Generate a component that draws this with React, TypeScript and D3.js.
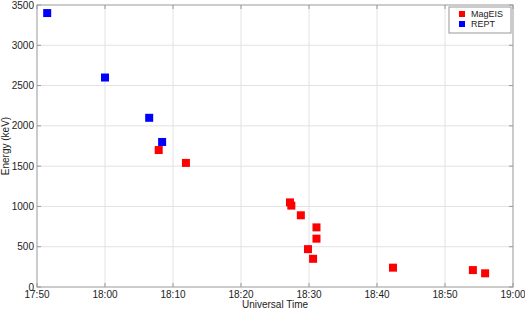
import React from 'react';
import * as d3 from 'd3';

const magEISTimes = ['18:07:54', '18:11:54', '18:27:12', '18:27:24', '18:28:48', '18:31:06', '18:31:06', '18:29:51', '18:30:36', '18:42:21', '18:54:06', '18:55:54'];
const magEISEnergy = [1700, 1540, 1050, 1010, 890, 740, 600, 470, 350, 240, 210, 170];
const reptTimes = ['17:51:30', '18:00:00', '18:06:30', '18:08:24'];
const reptEnergy = [3400, 2600, 2100, 1800];
const xTickLabels = ['17:50', '18:00', '18:10', '18:20', '18:30', '18:40', '18:50', '19:00'];
const yTicks = [0, 500, 1000, 1500, 2000, 2500, 3000, 3500];

const parse = d3.timeParse('%H:%M:%S');
const parseTick = d3.timeParse('%H:%M');

const width = 525;
const height = 309;
const margin = { top: 5, right: 12, bottom: 22, left: 37 };
const font = 'Arial, "Liberation Sans", Helvetica, sans-serif';

const App = () => {
  const x = d3.scaleTime()
    .domain([parseTick('17:50')!, parseTick('19:00')!])
    .range([margin.left, width - margin.right]);
  const y = d3.scaleLinear()
    .domain([0, 3500])
    .range([height - margin.bottom, margin.top]);

  const xTicks = xTickLabels.map(t => parseTick(t)!);
  const magEIS = magEISTimes.map((t, i) => ({ t: parse(t)!, e: magEISEnergy[i] }));
  const rept = reptTimes.map((t, i) => ({ t: parse(t)!, e: reptEnergy[i] }));
  const s = 8;
  const [x0, x1] = x.range();
  const [y0, y1] = y.range();

  return (
    <svg width={width} height={height} style={{ position: 'absolute', left: 0, top: 0, fontFamily: font }}>
      <rect x={x0} y={y1} width={x1 - x0} height={y0 - y1} fill="white" />
      {xTicks.slice(1, -1).map((d, i) => (
        <line key={'gx' + i} x1={x(d)} x2={x(d)} y1={y1} y2={y0} stroke="#e2e2e2" strokeWidth={1} />
      ))}
      {yTicks.slice(1, -1).map(d => (
        <line key={'gy' + d} x1={x0} x2={x1} y1={y(d)} y2={y(d)} stroke="#e2e2e2" strokeWidth={1} />
      ))}
      {xTicks.map((d, i) => (
        <g key={'tx' + i}>
          <line x1={x(d)} x2={x(d)} y1={y0} y2={y0 - 4} stroke="#999" />
          <line x1={x(d)} x2={x(d)} y1={y1} y2={y1 + 4} stroke="#999" />
          <text x={x(d)} y={y0 + 11} textAnchor="middle" fontSize={10} fill="#222">{xTickLabels[i]}</text>
        </g>
      ))}
      {yTicks.map(d => (
        <g key={'ty' + d}>
          <line x1={x0} x2={x0 + 4} y1={y(d)} y2={y(d)} stroke="#999" />
          <line x1={x1} x2={x1 - 4} y1={y(d)} y2={y(d)} stroke="#999" />
          <text x={x0 - 3} y={y(d) + 3.5} textAnchor="end" fontSize={10} fill="#222">{d}</text>
        </g>
      ))}
      <rect x={x0} y={y1} width={x1 - x0} height={y0 - y1} fill="none" stroke="#999" strokeWidth={1} />
      {rept.map((d, i) => (
        <rect key={'r' + i} x={x(d.t) - s / 2} y={y(d.e) - s / 2} width={s} height={s} fill="#0000ff" />
      ))}
      {magEIS.map((d, i) => (
        <rect key={'m' + i} x={x(d.t) - s / 2} y={y(d.e) - s / 2} width={s} height={s} fill="#ff0000" />
      ))}
      <text x={(x0 + x1) / 2} y={height - 1} textAnchor="middle" fontSize={10} fill="#222">Universal Time</text>
      <text transform={`translate(9,${(y0 + y1) / 2}) rotate(-90)`} textAnchor="middle" fontSize={10} fill="#222">Energy (keV)</text>
      <g>
        <rect x={449} y={7} width={62} height={26} fill="white" stroke="#999" />
        <rect x={459} y={11} width={6} height={6} fill="#ff0000" />
        <text x={471} y={17} fontSize={9} fill="#222">MagEIS</text>
        <rect x={459} y={21} width={6} height={6} fill="#0000ff" />
        <text x={471} y={27} fontSize={9} fill="#222">REPT</text>
      </g>
    </svg>
  );
};

export default App;
